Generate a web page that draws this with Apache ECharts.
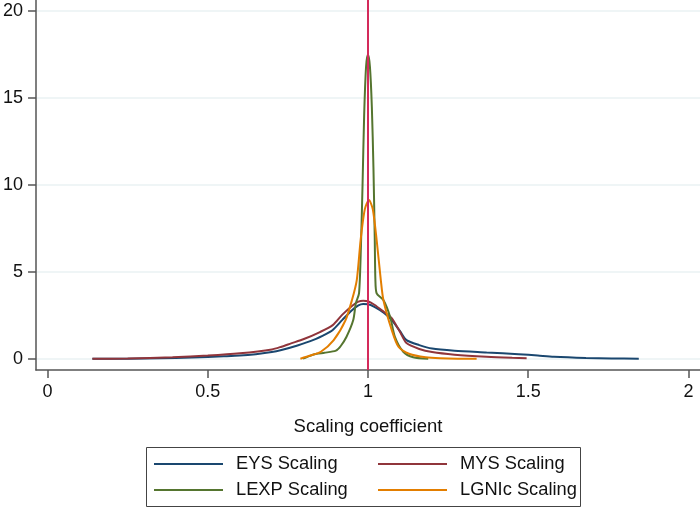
<!DOCTYPE html>
<html><head><meta charset="utf-8">
<script src="https://cdn.jsdelivr.net/npm/echarts@6/dist/echarts.min.js"></script>
<style>html,body{margin:0;padding:0;background:#fff}#c{width:700px;height:508px}</style>
</head><body><div id="c"></div>
<script>
const xTicks = [0, 0.5, 1, 1.5, 2];
const yTicks = [0, 5, 10, 15, 20];
const seriesNames = ['EYS Scaling', 'MYS Scaling', 'LEXP Scaling', 'LGNIc Scaling'];
const refLineX = 1;

const eysX = [0.14,0.25,0.35,0.45,0.55,0.60,0.65,0.70,0.73,0.78,0.83,0.87,0.89,0.92,0.95,0.97,0.985,1.00,1.02,1.05,1.074,1.10,1.12,1.16,1.20,1.27,1.37,1.47,1.53,1.58,1.68,1.76,1.845];
const eysY = [0.01,0.02,0.04,0.09,0.16,0.20,0.28,0.40,0.52,0.78,1.10,1.45,1.67,2.25,2.80,3.08,3.16,3.15,3.00,2.65,2.24,1.60,1.09,0.80,0.60,0.48,0.38,0.28,0.20,0.13,0.06,0.03,0.02];

const mysX = [0.14,0.25,0.39,0.50,0.60,0.70,0.73,0.76,0.80,0.85,0.89,0.92,0.95,0.97,0.985,1.00,1.02,1.05,1.074,1.10,1.12,1.16,1.20,1.27,1.37,1.45,1.495];
const mysY = [0.01,0.03,0.10,0.20,0.33,0.55,0.71,0.90,1.15,1.55,1.95,2.55,3.05,3.30,3.35,3.32,3.12,2.70,2.35,1.55,0.92,0.58,0.40,0.25,0.13,0.07,0.05];

const lexpX = [0.797,0.817,0.84,0.864,0.90,0.915,0.933,0.954,0.962,0.972,0.978,0.983,0.988,0.994,1.000,1.006,1.012,1.017,1.021,1.023,1.027,1.048,1.069,1.084,1.11,1.141,1.188];
const lexpY = [0.02,0.17,0.30,0.36,0.48,0.75,1.28,2.24,3.2,3.77,6.5,10.0,14.0,16.8,17.5,16.8,14.5,11.0,7.0,4.6,3.77,3.39,2.43,1.28,0.42,0.10,0.01];

const lgnX = [0.789,0.82,0.853,0.893,0.93,0.95,0.965,0.977,0.99,1.003,1.015,1.027,1.04,1.048,1.074,1.095,1.13,1.18,1.225,1.28,1.339];
const lgnY = [0.02,0.20,0.42,1.09,2.24,3.39,4.54,6.84,8.6,9.14,8.6,6.84,4.54,3.39,1.67,0.71,0.29,0.10,0.04,0.02,0.02];

const colors = ['#1A476F', '#90353B', '#55752F', '#E37E00'];
const pairs = (xs, ys) => xs.map((x, i) => [x, ys[i]]);
const dataSets = [pairs(eysX, eysY), pairs(mysX, mysY), pairs(lexpX, lexpY), pairs(lgnX, lgnY)];

const font = '"Liberation Sans", Arial, sans-serif';
const chart = echarts.init(document.getElementById('c'));

const series = seriesNames.map((n, i) => ({
  name: n, type: 'line', data: dataSets[i], symbol: 'none', showSymbol: false,
  smooth: 0.25, lineStyle: {color: colors[i], width: 2}, itemStyle: {color: colors[i]},
  z: 3 + i
}));
series[3].markLine = {
  silent: true, symbol: 'none', label: {show: false},
  lineStyle: {color: '#D42A5B', width: 2, type: 'solid'},
  data: [{xAxis: refLineX}], z: 10
};

const legendBase = {
  orient: 'vertical', top: 454, height: 60, padding: 0, icon: 'rect',
  itemWidth: 69, itemHeight: 2, itemGap: 6,
  textStyle: {fontSize: 18.3, lineHeight: 20, fontFamily: font, color: '#111', padding: [0,0,0,8]}
};

chart.setOption({
  animation: false,
  backgroundColor: '#fff',
  color: colors,
  grid: {left: 36, right: 0, top: 0, height: 370},
  xAxis: {
    type: 'value', min: -0.0359, max: 2.036,
    axisLine: {onZero: false, lineStyle: {color: '#555', width: 1.5}},
    axisTick: {show: true, length: 8, customValues: xTicks, lineStyle: {color: '#555', width: 1.5}},
    axisLabel: {customValues: xTicks, color: '#111', fontSize: 18, fontFamily: font, margin: 13},
    splitLine: {show: false},
    name: 'Scaling coefficient', nameLocation: 'middle', nameGap: 47,
    nameTextStyle: {color: '#111', fontSize: 18.5, fontFamily: font}
  },
  yAxis: {
    type: 'value', min: -0.63, max: 20.63,
    axisLine: {show: true, onZero: false, lineStyle: {color: '#555', width: 1.5}},
    axisTick: {show: true, length: 8, customValues: yTicks, lineStyle: {color: '#555', width: 1.5}},
    axisLabel: {customValues: yTicks, color: '#111', fontSize: 18, fontFamily: font, margin: 13},
    splitLine: {show: true, lineStyle: {color: '#EAF2F3', width: 1.5}}
  },
  legend: [
    Object.assign({}, legendBase, {data: [seriesNames[0], seriesNames[2]], left: 154}),
    Object.assign({}, legendBase, {data: [seriesNames[1], seriesNames[3]], left: 378})
  ],
  graphic: [{type: 'rect', shape: {x: 146.5, y: 447.5, width: 434, height: 59},
    style: {fill: 'none', stroke: '#444', lineWidth: 1}, silent: true}],
  series: series
});
</script></body></html>
